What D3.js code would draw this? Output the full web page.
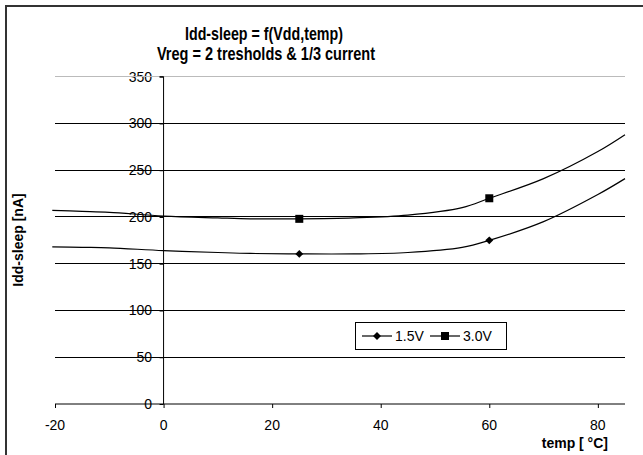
<!DOCTYPE html>
<html>
<head>
<meta charset="utf-8">
<script src="https://cdn.jsdelivr.net/npm/d3@7"></script>
<style>
  body { margin: 0; background: #fff; }
  text { font-family: "Liberation Sans", Arial, sans-serif; fill: #000; }
</style>
</head>
<body>
<script>

// chart data
var temps = [-20.5, -15, -10, 0, 10, 16, 25, 35, 45, 55, 60, 70, 80, 85];
var idd15 = [168, 167.5, 167, 164, 162, 161, 160.5, 160.5, 162, 167.5, 175, 195, 224, 241];
var idd30 = [207, 206, 205, 201, 199, 198, 198, 199, 202, 210, 220, 241, 270, 288];
var markAt = [25, 60];   // only these points carry a marker
var seriesNames = ["1.5V", "3.0V"];
var xTicks = [-20, 0, 20, 40, 60, 80];
var yTicks = [0, 50, 100, 150, 200, 250, 300, 350];

var W = 643, H = 455;

var svg = d3.select("body").append("svg")
    .attr("width", W)
    .attr("height", H);

// outer chart border (runs off the right and bottom)
svg.append("rect")
    .attr("x", 6).attr("y", 6)
    .attr("width", 700).attr("height", 500)
    .attr("fill", "none")
    .attr("stroke", "#333")
    .attr("stroke-width", 2);

var x = d3.scaleLinear().domain([-20, 85]).range([55, 625]);
var y = d3.scaleLinear().domain([0, 350]).range([404, 76.7]);

// titles
svg.append("text")
    .text("Idd-sleep = f(Vdd,temp)")
    .attr("x", 264).attr("y", 40)
    .attr("text-anchor", "middle")
    .attr("font-weight", "bold")
    .attr("font-size", 19)
    .attr("textLength", 158)
    .attr("lengthAdjust", "spacingAndGlyphs");

svg.append("text")
    .text("Vreg = 2 tresholds & 1/3 current")
    .attr("x", 266).attr("y", 59.5)
    .attr("text-anchor", "middle")
    .attr("font-weight", "bold")
    .attr("font-size", 19)
    .attr("textLength", 218)
    .attr("lengthAdjust", "spacingAndGlyphs");

// y tick labels (the gridlines run through them)
svg.append("g").selectAll("text")
    .data(yTicks)
  .enter().append("text")
    .text(function(d) { return d; })
    .attr("x", 152)
    .attr("y", function(d) { return y(d) + 5; })
    .attr("text-anchor", "end")
    .attr("font-size", 14);

// gridlines
svg.append("g").selectAll("line")
    .data(yTicks.filter(function(d) { return d > 0; }))
  .enter().append("line")
    .attr("x1", x(-20)).attr("x2", x(85))
    .attr("y1", function(d) { return y(d); })
    .attr("y2", function(d) { return y(d); })
    .attr("stroke", function(d) { return d == 350 ? "#bbb" : "#000"; })
    .attr("stroke-width", 1)
    .attr("shape-rendering", "crispEdges");

// y axis sits at temp = 0
var yAxis = d3.axisLeft(y).tickValues(yTicks).tickSize(4).tickFormat("");
svg.append("g")
    .attr("transform", "translate(" + x(0) + ",0)")
    .call(yAxis)
    .call(function(g) { g.select(".domain").attr("stroke", "#000").attr("d", "M-4," + y(350) + "H0V" + y(0)); });

// x axis at 0 nA
var xAxis = d3.axisBottom(x).tickValues(xTicks).tickSize(4).tickFormat("");
svg.append("g")
    .attr("transform", "translate(0," + y(0) + ")")
    .call(xAxis)
    .call(function(g) { g.select(".domain").attr("d", "M" + x(-20) + ",0H" + x(85)); });

svg.selectAll(".tick line").attr("stroke", "#000");

svg.append("g").selectAll("text")
    .data(xTicks)
  .enter().append("text")
    .text(function(d) { return d; })
    .attr("x", function(d) { return x(d); })
    .attr("y", 430)
    .attr("text-anchor", "middle")
    .attr("font-size", 14);

// axis titles
svg.append("text")
    .text("temp [ °C]")
    .attr("x", 608).attr("y", 448)
    .attr("text-anchor", "end")
    .attr("font-weight", "bold")
    .attr("font-size", 14);

svg.append("text")
    .text("Idd-sleep [nA]")
    .attr("transform", "translate(23,240) rotate(-90)")
    .attr("text-anchor", "middle")
    .attr("font-weight", "bold")
    .attr("font-size", 14);

// series
var line = d3.line()
    .x(function(d) { return x(d[0]); })
    .y(function(d) { return y(d[1]); })
    .curve(d3.curveCatmullRom.alpha(0.5));

var pts15 = temps.map(function(t, i) { return [t, idd15[i]]; });
var pts30 = temps.map(function(t, i) { return [t, idd30[i]]; });

[pts15, pts30].forEach(function(pts) {
  svg.append("path")
      .datum(pts)
      .attr("d", line)
      .attr("fill", "none")
      .attr("stroke", "#000")
      .attr("stroke-width", 1.2);
});

var diamond = d3.symbol().type(d3.symbolDiamond2).size(40);
var square = d3.symbol().type(d3.symbolSquare).size(64);

svg.append("g").selectAll("path")
    .data(pts15.filter(function(p) { return markAt.indexOf(p[0]) >= 0; }))
  .enter().append("path")
    .attr("d", diamond)
    .attr("transform", function(d) { return "translate(" + x(d[0]) + "," + y(d[1]) + ")"; })
    .attr("fill", "#000");

svg.append("g").selectAll("path")
    .data(pts30.filter(function(p) { return markAt.indexOf(p[0]) >= 0; }))
  .enter().append("path")
    .attr("d", square)
    .attr("transform", function(d) { return "translate(" + x(d[0]) + "," + y(d[1]) + ")"; })
    .attr("fill", "#000");

// legend
var lg = svg.append("g").attr("transform", "translate(355,322)");
lg.append("rect")
    .attr("x", 0.5).attr("y", 0.5)
    .attr("width", 151).attr("height", 27)
    .attr("fill", "#fff")
    .attr("stroke", "#000");

var lx = [7, 75];
seriesNames.forEach(function(name, i) {
  lg.append("line")
      .attr("x1", lx[i]).attr("x2", lx[i] + 30)
      .attr("y1", 14).attr("y2", 14)
      .attr("stroke", "#000").attr("stroke-width", 1.2);
  lg.append("path")
      .attr("d", i == 0 ? diamond : square)
      .attr("transform", "translate(" + (lx[i] + 15) + ",14)")
      .attr("fill", "#000");
  lg.append("text")
      .text(name)
      .attr("x", lx[i] + 33)
      .attr("y", 19)
      .attr("font-size", 14);
});

</script>
</body>
</html>
